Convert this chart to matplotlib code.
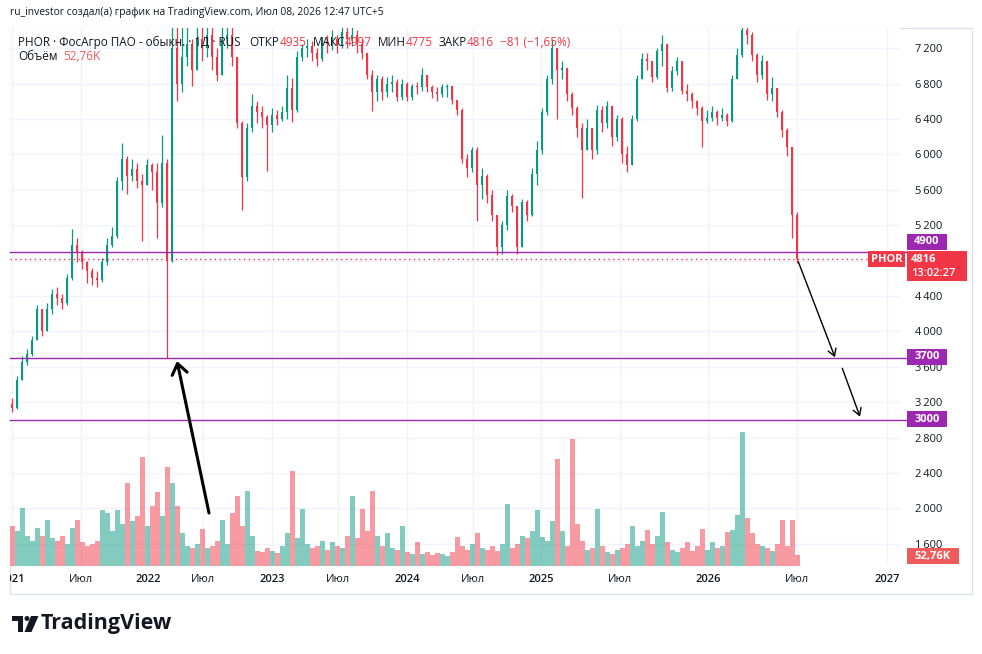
import matplotlib
matplotlib.use('Agg')
import matplotlib.pyplot as plt
from matplotlib.patches import Rectangle, Polygon, Ellipse
from matplotlib.transforms import Bbox, TransformedBbox, blended_transform_factory
import numpy as np

W, H, DPI = 982, 654, 100
FONT = ['Open Sans', 'DejaVu Sans']
plt.rcParams['font.family'] = FONT

# ---------------- data (aggregated candles) ----------------
first_open = 3180
closes = [3130, 3450, 3650, 3740, 3900, 4250, 4000, 4250, 4420, 4380,
          4320, 4600, 4980, 4900, 4780, 4680, 4600, 4580, 4780, 4980,
          5080, 5700, 5950, 5760, 5840, 5700, 5650, 5880, 5800, 5450,
          5900, 4800, 7200, 6800, 7100, 7250, 6950, 7300, 7200, 7350,
          7100, 6900, 7300, 7350, 7100, 6350, 5750, 6300, 6550, 6480,
          6420, 6330, 6450, 6400, 6480, 6750, 6500, 7100, 7200, 7220,
          7150, 7080, 7280, 7250, 7300, 7240, 7380, 7300, 7350, 7250,
          7150, 6900, 6700, 6850, 6700, 6800, 6820, 6650, 6800, 6650,
          6770, 6760, 6900, 6760, 6700, 6680, 6760, 6770, 6620, 6500,
          5950, 5850, 6050, 5650, 5760, 5540, 5310, 4950, 5200, 5530,
          5420, 4950, 5460, 5310, 5780, 6050, 6480, 6850, 7200, 6950,
          6980, 6680, 6520, 6300, 6050, 6300, 6050, 6500, 6350, 6550,
          6200, 6400, 6000, 5880, 6400, 6850, 7080, 7050, 6870, 7170,
          7250, 6750, 6940, 7050, 6720, 6680, 6600, 6520, 6380, 6410,
          6480, 6410, 6440, 6380, 6850, 7120, 7400, 7350, 7120, 6900,
          7050, 6680, 6750, 6480, 6270, 6080, 5320, 4816]
highs = [3250, 3500, 3720, 3800, 3950, 4300, 4250, 4320, 4480, 4500,
         4420, 4650, 5160, 5050, 4920, 4800, 4720, 4680, 4830, 5050,
         5180, 5750, 6130, 5980, 5950, 5900, 5780, 5950, 5900, 5900,
         6220, 5950, 7600, 7600, 7600, 7450, 7300, 7600, 7450, 7600,
         7450, 7200, 7600, 7600, 7450, 7100, 6380, 6350, 6680, 6600,
         6550, 6450, 6520, 6500, 6550, 6900, 6860, 7170, 7250, 7300,
         7280, 7200, 7330, 7350, 7400, 7350, 7600, 7450, 7450, 7400,
         7300, 7150, 6950, 6900, 6880, 6870, 6900, 6850, 6850, 6820,
         6800, 6820, 6975, 6900, 6780, 6760, 6800, 6800, 6720, 6620,
         6520, 6000, 6080, 6080, 5850, 5780, 5600, 5320, 5250, 5600,
         5550, 5420, 5500, 5480, 5850, 6150, 6520, 6900, 7300, 7200,
         7050, 6980, 6700, 6550, 6350, 6400, 6300, 6560, 6550, 6600,
         6500, 6450, 6420, 6100, 6450, 6900, 7150, 7150, 7050, 7200,
         7350, 7250, 7000, 7100, 7050, 6800, 6700, 6620, 6550, 6500,
         6550, 6500, 6520, 6470, 6900, 7200, 7500, 7500, 7380, 7150,
         7120, 7050, 6870, 6750, 6500, 6300, 6080, 5350]
lows = [3090, 3120, 3450, 3620, 3720, 3900, 3950, 4000, 4200, 4300,
        4250, 4300, 4580, 4780, 4700, 4550, 4520, 4500, 4560, 4750,
        4950, 5050, 5600, 5550, 5700, 5620, 5020, 5650, 5600, 5050,
        5400, 3700, 4780, 6600, 6700, 7000, 6770, 6950, 7050, 7100,
        6950, 6830, 6900, 7200, 7000, 6300, 5370, 5700, 6250, 6350,
        6300, 5810, 6250, 6330, 6380, 6400, 6370, 6480, 7050, 7100,
        7050, 7000, 7050, 7150, 7180, 7150, 7200, 7200, 7220, 7150,
        7080, 6850, 6490, 6600, 6620, 6650, 6700, 6600, 6620, 6600,
        6620, 6680, 6720, 6700, 6640, 6600, 6650, 6650, 6570, 6450,
        5900, 5750, 5800, 5243, 5500, 5450, 5250, 4860, 4880, 5150,
        5350, 4880, 4950, 5250, 5300, 5650, 6000, 6450, 6800, 6400,
        6850, 6600, 6450, 6200, 5503, 6050, 5950, 6000, 6250, 6300,
        6100, 6150, 5900, 5800, 5880, 6380, 6850, 6950, 6820, 6850,
        7000, 6700, 6720, 6900, 6680, 6600, 6520, 6450, 6080, 6350,
        6380, 6330, 6380, 6320, 6370, 6850, 7100, 7250, 7050, 6820,
        6850, 6620, 6600, 6420, 6200, 5980, 5050, 4775]
volumes_k = [200, 175, 290, 150, 125, 190, 150, 230, 140, 125,
             150, 110, 190, 230, 120, 100, 110, 125, 280, 265,
             175, 280, 210, 415, 225, 250, 545, 200, 300, 370,
             250, 495, 415, 300, 165, 100, 90, 110, 185, 90,
             100, 125, 230, 110, 265, 350, 200, 375, 150, 75,
             70, 90, 75, 65, 100, 165, 475, 140, 285, 110,
             90, 100, 125, 80, 120, 100, 90, 150, 350, 140,
             285, 175, 375, 150, 100, 165, 90, 80, 200, 70,
             60, 120, 60, 70, 55, 65, 60, 50, 70, 145,
             100, 80, 110, 165, 90, 80, 100, 75, 110, 310,
             90, 110, 150, 140, 175, 280, 145, 125, 225, 535,
             175, 100, 635, 210, 125, 80, 90, 285, 100, 70,
             60, 80, 90, 110, 200, 100, 125, 180, 110, 150,
             270, 120, 80, 70, 90, 120, 75, 100, 185, 80,
             120, 90, 100, 170, 180, 255, 670, 240, 165, 110,
             100, 90, 75, 110, 230, 100, 230, 52.76]

price_ticks = list(range(1600, 7201, 400))
hidden_price_labels = [4800]          # covered by the last-price box in the reference
time_labels = ['2021', 'Июл', '2022', 'Июл', '2023', 'Июл', '2024', 'Июл',
               '2025', 'Июл', '2026', 'Июл', '2027']
time_pos = [0, 13.8, 27.2, 38.2, 52, 65.2, 79, 92.2, 105.8, 121.6, 139.2, 157, 175]
levels = [4900, 3700, 3000]
last_price = 4816

header = 'ru_investor создал(а) график на TradingView.com, Июл 08, 2026 12:47 UTC+5'

UP, DOWN = '#089981', '#f23645'
DARK = '#131722'
GRID = '#f0f3fa'
PURPLE = '#9c27b0'

# ---------------- figure ----------------
fig = plt.figure(figsize=(W / DPI, H / DPI), dpi=DPI)
fig.patch.set_facecolor('white')

def fx(x):
    return x / W

def fy(y):
    return 1 - y / H

rect = [fx(10), fy(566), (900 - 10) / W, (566 - 28) / H]
axv = fig.add_axes(rect)
axp = fig.add_axes(rect)
axp.set_facecolor('none')

n = len(closes)
idx = np.arange(n)
opens = [first_open] + closes[:-1]
cols = [UP if c >= o else DOWN for o, c in zip(opens, closes)]

XLIM = (-0.4, 177.6)
for a in (axv, axp):
    a.set_xlim(*XLIM)
    for s in a.spines.values():
        s.set_visible(False)
axp.set_ylim(1349, 7428)
axv.set_ylim(0, 538 * 5)
axv.set_xticks([]); axv.set_yticks([])

# grid (drawn on the volume axes, below everything)
bt = blended_transform_factory(axv.transAxes, axp.transData)
for p in price_ticks:
    axv.plot([0, 1], [p, p], transform=bt, color=GRID, lw=1, zorder=0)
for t in time_pos:
    axv.axvline(t, color=GRID, lw=1, zorder=0)

# volume
vcols = [(0.031, 0.6, 0.506, 0.5) if c == UP else (0.949, 0.212, 0.271, 0.5) for c in cols]
axv.bar(idx, volumes_k, width=1.0, color=vcols, linewidth=0, zorder=1)

# candles
o = np.array(opens, float); c = np.array(closes, float)
hi = np.maximum(np.array(highs, float), np.maximum(o, c))
lo = np.minimum(np.array(lows, float), np.minimum(o, c))
axp.vlines(idx, lo, hi, colors=cols, linewidth=0.9, zorder=2)
body_bottom = np.minimum(o, c)
body_h = np.maximum(np.abs(c - o), 8)
axp.bar(idx, body_h, bottom=body_bottom, width=0.5, color=cols, linewidth=0, zorder=3)

# levels
for lv in levels:
    axp.axhline(lv, xmin=0, xmax=(906 - 10) / 890, color=PURPLE, lw=1, zorder=4, clip_on=False)
axp.axhline(last_price, xmin=0, xmax=(868 - 10) / 890, color=DOWN, lw=1,
            ls=(0, (1, 2.5)), zorder=4)

# arrows
axp.annotate('', xy=(33.0, 3665), xytext=(39.4, 1948),
             arrowprops=dict(arrowstyle='->,head_length=0.75,head_width=0.55',
                             lw=2.2, color='black', shrinkA=0, shrinkB=0), zorder=6)
axp.annotate('', xy=(164.6, 3707), xytext=(157.26, 4787),
             arrowprops=dict(arrowstyle='->,head_length=0.5,head_width=0.3',
                             lw=1.0, color='black', shrinkA=0, shrinkB=0), zorder=6)
axp.annotate('', xy=(169.6, 3036), xytext=(166.06, 3583),
             arrowprops=dict(arrowstyle='->,head_length=0.5,head_width=0.3',
                             lw=1.0, color='black', shrinkA=0, shrinkB=0), zorder=6)

# price axis labels (right)
axp.yaxis.tick_right()
axp.set_yticks(price_ticks)
axp.set_yticklabels(['' if v in hidden_price_labels else f'{v:,}'.replace(',', '\u2009')
                     for v in price_ticks])
axp.tick_params(axis='y', length=0, pad=10.5, labelsize=8, labelcolor=DARK)
axp.set_xticks([])

# time labels
clipbox = TransformedBbox(Bbox.from_extents(fx(10), 0, 1, 1), fig.transFigure)
for pos, lab in zip(time_pos, time_labels):
    t = axp.text(pos, (566 - 579) / 538, lab, transform=axp.get_xaxis_transform(),
                 ha='center', va='center', fontsize=8, color=DARK,
                 fontweight='semibold' if lab[0].isdigit() else 'normal')
    t.set_clip_path(None)
    t.set_clip_box(clipbox)
    t.set_clip_on(True)

# outer frame
fig.add_artist(Rectangle((fx(10), fy(594)), (972 - 10) / W, (594 - 28) / H,
                         transform=fig.transFigure, fill=False,
                         edgecolor='#e0e3eb', lw=1, zorder=0))

# header
fig.text(fx(10), fy(13), header, fontsize=7.4, color=DARK, va='center', ha='left')

# legend
renderer = fig.canvas.get_renderer()

def segments(x0, y0, segs, size=8.5):
    x = x0
    for s, col, gap in segs:
        t = fig.text(fx(x), fy(y0), s, color=col, fontsize=size, va='center', ha='left', zorder=7)
        bb = t.get_window_extent(renderer=renderer)
        x += bb.width + gap

segments(18, 42, [('PHOR · ФосАгро ПАО - обыкн. · 1Д · RUS', DARK, 9),
                  ('ОТКР', DARK, 0), ('4935', DOWN, 6),
                  ('МАКС', DARK, 0), ('4997', DOWN, 6),
                  ('МИН', DARK, 0), ('4775', DOWN, 6),
                  ('ЗАКР', DARK, 0), ('4816', DOWN, 6),
                  ('−81 (−1,65%)', DOWN, 0)])
segments(18, 57, [('Объём', DARK, 6), ('52,76K', '#f05a5a', 0)])

# axis boxes
def box(x0, y0, x1, y1, color):
    fig.add_artist(Rectangle((fx(x0), fy(y1)), (x1 - x0) / W, (y1 - y0) / H,
                             transform=fig.transFigure, facecolor=color,
                             edgecolor='none', zorder=5))

def btext(x, y, s, ha='center', weight='bold'):
    fig.text(fx(x), fy(y), s, color='white', fontsize=8, fontweight=weight,
             ha=ha, va='center', zorder=6)

box(907, 234, 947, 250, PURPLE); btext(927, 242, '4900')
box(907, 349, 947, 365, PURPLE); btext(927, 357, '3700')
box(907, 411, 947, 427, PURPLE); btext(927, 419, '3000')
box(868, 251, 905, 267, DOWN); btext(886.5, 259, 'PHOR')
box(907, 251, 967, 281, DOWN); btext(911, 259, '4816', ha='left'); btext(911, 273, '13:02:27', ha='left', weight='semibold')
box(907, 548, 959, 564, '#f05a5a'); btext(933, 556, '52,76K')

# TradingView logo
def poly(pts):
    fig.add_artist(Polygon([(fx(x), fy(y)) for x, y in pts], closed=True,
                           transform=fig.transFigure, facecolor=DARK, edgecolor='none'))

poly([(12, 616), (23, 616), (23, 632), (17.5, 632), (17.5, 621), (12, 621)])
fig.add_artist(Ellipse((fx(27), fy(618.5)), 5 / W, 5 / H, transform=fig.transFigure,
                       facecolor=DARK, edgecolor='none'))
poly([(31, 616), (38.5, 616), (31.5, 632), (24.5, 632)])
fig.text(fx(41), fy(624), 'TradingView', fontsize=15.5, fontweight='bold', color=DARK,
         va='center', ha='left')

fig.savefig('out.png', dpi=DPI, facecolor='white')
